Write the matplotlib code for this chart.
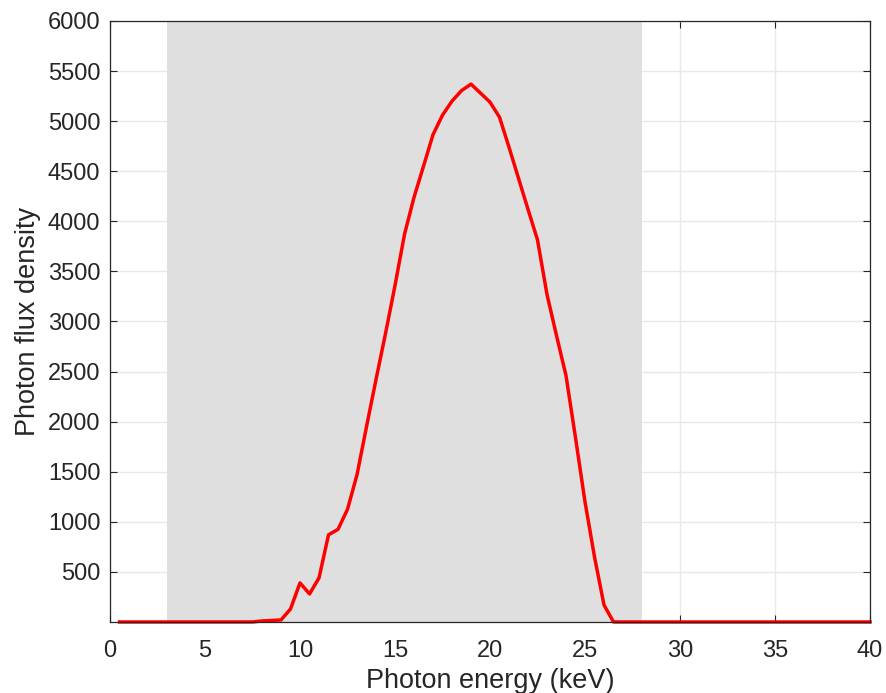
import numpy as np
import matplotlib
matplotlib.use("Agg")
import matplotlib.pyplot as plt

plt.rcParams['font.family'] = ['Liberation Sans', 'DejaVu Sans']

# photon spectrum (keV, flux density)
energy = [0.5, 1, 1.5, 2, 2.5, 3, 3.5, 4, 4.5, 5, 5.5, 6, 6.5, 7, 7.5,
          8, 8.5, 9, 9.5, 10, 10.5, 11, 11.5, 12, 12.5, 13, 13.5, 14, 14.5,
          15, 15.5, 16, 16.5, 17, 17.5, 18, 18.5, 19, 19.5, 20, 20.5, 21,
          21.5, 22, 22.5, 23, 23.5, 24, 24.5, 25, 25.5, 26, 26.5, 40]
flux = [0, 0, 0, 0, 0, 0, 0, 0, 0, 0, 0, 0, 0, 0, 0,
        10, 15, 20, 130, 390, 280, 440, 870, 925, 1125, 1470, 1950, 2420, 2880,
        3360, 3870, 4240, 4550, 4865, 5060, 5200, 5305, 5370, 5280, 5190, 5040, 4740,
        4430, 4120, 3815, 3270, 2860, 2460, 1840, 1200, 650, 170, 0, 0]

band = (3, 28)
xticks = list(range(0, 41, 5))
yticks = list(range(500, 6001, 500))

fig = plt.figure(figsize=(8.86, 6.93), dpi=100)
ax = fig.add_axes([0.1242, 0.1025, 0.8577, 0.8672])

ax.set_axisbelow(True)
ax.grid(True, color='#e8e8e8', linewidth=1.0)
ax.axvspan(band[0], band[1], color='#dfdfdf', lw=0, zorder=1)
ax.plot(energy, flux, color='red', lw=2.5, zorder=3, clip_on=False)

ax.set_xlim(0, 40)
ax.set_ylim(0, 6000)
ax.set_xticks(xticks)
ax.set_yticks(yticks)
ax.tick_params(direction='in', length=5, width=0.8, top=True, right=True,
               labelsize=17, colors='#262626')
ax.tick_params(axis='x', pad=13)
ax.tick_params(axis='y', pad=7)
for s in ax.spines.values():
    s.set_color('#262626')
    s.set_linewidth(0.9)
    s.set_zorder(4)

ax.set_xlabel('Photon energy (keV)', fontsize=19.5, color='#262626', labelpad=4)
ax.set_ylabel('Photon flux density', fontsize=19.5, color='#262626', labelpad=5)

fig.savefig('out.png', dpi=100)
